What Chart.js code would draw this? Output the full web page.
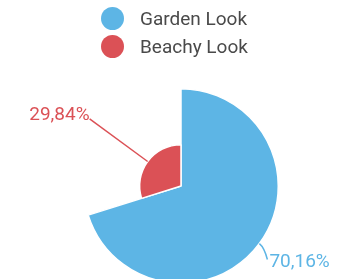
<!DOCTYPE html>
<html>
<head>
<meta charset="utf-8">
<script src="https://cdn.jsdelivr.net/npm/chart.js@4.4.1/dist/chart.umd.min.js"></script>
<style>
    html, body { margin: 0; padding: 0; background: #fff; overflow: hidden; }
    #wrap { position: relative; width: 352px; height: 279px; overflow: hidden; }
    #chart { position: absolute; left: 0; top: 0; }
    #legend { position: absolute; left: 101px; top: 4px; font-family: Roboto, sans-serif; font-size: 19px; color: #4a4a4a; }
    #legend .item { display: flex; align-items: center; height: 28px; }
    #legend .dot { width: 23px; height: 23px; border-radius: 50%; margin-right: 16px; }
</style>
</head>
<body>
<div id="wrap">
    <canvas id="chart" width="352" height="300"></canvas>
    <div id="legend"></div>
</div>
<script>
    // data
    const labels = ["Garden Look", "Beachy Look"];
    const values = [70.16, 29.84];
    const colors = ["#5DB5E5", "#DB5156"];

    // legend
    const legendEl = document.getElementById("legend");
    labels.forEach((lbl, i) => {
        const item = document.createElement("div");
        item.className = "item";
        item.innerHTML = `<span class="dot" style="background:${colors[i]}"></span><span>${lbl}</span>`;
        legendEl.appendChild(item);
    });

    const fmt = v => v.toFixed(2).replace(".", ",") + "%";

    // each slice radius scales with its value relative to the biggest one
    const sliceRadius = {
        id: "sliceRadius",
        afterDatasetsUpdate(chart) {
            const meta = chart.getDatasetMeta(0);
            const max = Math.max(...values);
            meta.data.forEach((arc, i) => {
                arc.outerRadius = arc.outerRadius * values[i] / max;
            });
        }
    };

    // labels with leader lines
    const sliceLabels = {
        id: "sliceLabels",
        afterDatasetsDraw(chart) {
            const ctx = chart.ctx;
            const meta = chart.getDatasetMeta(0);
            ctx.save();
            ctx.font = "19px Roboto, sans-serif";
            ctx.lineWidth = 1.5;
            meta.data.forEach((arc, i) => {
                const mid = (arc.startAngle + arc.endAngle) / 2;
                const cos = Math.cos(mid), sin = Math.sin(mid);
                const x0 = arc.x + cos * arc.outerRadius;
                const y0 = arc.y + sin * arc.outerRadius;
                ctx.strokeStyle = colors[i];
                ctx.fillStyle = colors[i];
                ctx.beginPath();
                ctx.moveTo(x0, y0);
                if (cos < 0) {
                    const x1 = arc.x + cos * (arc.outerRadius + 72);
                    const y1 = arc.y + sin * (arc.outerRadius + 72);
                    ctx.lineTo(x1, y1);
                    ctx.stroke();
                    ctx.textAlign = "right";
                    ctx.textBaseline = "alphabetic";
                    ctx.fillText(fmt(values[i]), x1, y1 + 1);
                } else {
                    const x1 = x0 + 8, y1 = y0 + 16;
                    ctx.quadraticCurveTo(x0 + 5, y0 + 4, x1, y1);
                    ctx.stroke();
                    ctx.textAlign = "left";
                    ctx.textBaseline = "middle";
                    ctx.fillText(fmt(values[i]), x1 + 2, y1 + 3);
                }
            });
            ctx.restore();
        }
    };

    new Chart(document.getElementById("chart"), {
        type: "pie",
        data: {
            labels: labels,
            datasets: [{
                data: values,
                backgroundColor: colors,
                borderColor: "#ffffff",
                borderWidth: 1.5,
            }],
        },
        options: {
            responsive: false,
            animation: false,
            events: [],
            layout: { padding: { top: 88, bottom: 16, left: 83, right: 73 } },
            plugins: {
                legend: { display: false },
                tooltip: { enabled: false },
            },
        },
        plugins: [sliceRadius, sliceLabels],
    });
</script>
</body>
</html>
